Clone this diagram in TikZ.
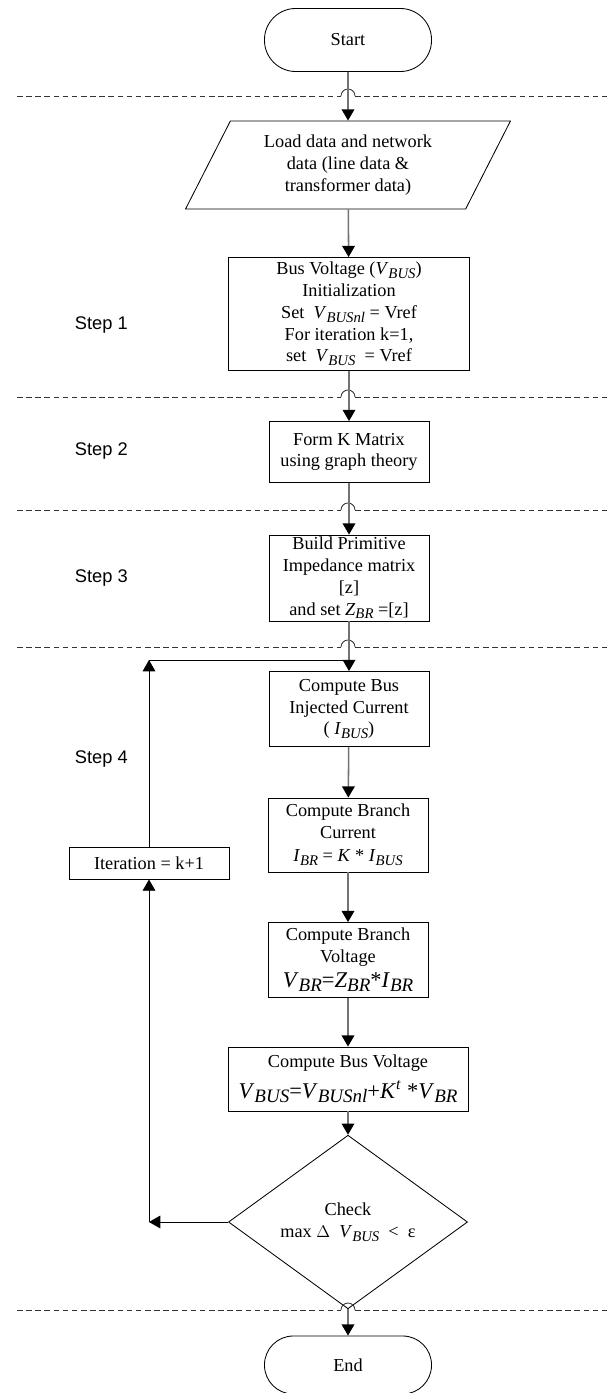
\documentclass[tikz,border=0pt]{standalone}
\usepackage{fontspec}
\setmainfont{Liberation Serif}
\newfontfamily\stepfont{Liberation Sans}
\usetikzlibrary{arrows.meta,shapes.geometric}
\def\vs#1#2{\textit{#1}\raisebox{-0.45ex}{\fontsize{10.5}{12}\selectfont\textit{#2}}}
\def\vsb#1#2{\textit{#1}\raisebox{-0.45ex}{\fontsize{13.5}{15}\selectfont\textit{#2}}}
\def\sepline(#1:#2:#3){\draw[sep] (17,#2) -- ({#1-7},#2); \draw[sep] ({#1+7},#2) -- (#3,#2); \draw[line width=0.6pt, black!80] ({#1-7},#2) arc (180:360:7);}
\tikzset{
  box/.style={draw, line width=0.6pt, align=center, inner sep=0pt, font=\fontsize{13}{15.5}\selectfont},
  flow/.style={draw=black!55, line width=1.1pt, -{Triangle[black,width=9pt,length=8pt]}},
  back/.style={draw=black, line width=0.6pt, -{Triangle[black,width=9pt,length=8pt]}},
  sep/.style={black!80, line width=0.6pt, dash pattern=on 4pt off 2.5pt},
  steplabel/.style={anchor=west, font=\stepfont\fontsize{13}{15}\selectfont}
}

\begin{document}
\begin{tikzpicture}[x=0.025cm, y=-0.025cm]
		%%%%% START %%%%%
		\useasboundingbox (0,0) rectangle (611,1393);
		
		\node[box, minimum width=4.175cm, minimum height=1.575cm, rounded corners=0.78cm] (start) at (348,40) {Start};
		\node[box, trapezium, trapezium left angle=62, trapezium right angle=118, trapezium stretches=true, minimum width=8.125cm, minimum height=2.2cm] (load) at (348,165) {Load data and network\\data (line data \&\\transformer data)};
		\node[box, minimum width=6.025cm, minimum height=2.825cm] (init) at (349,314) {Bus Voltage (\vs{V}{BUS})\\Initialization\\Set \ \vs{V}{BUSnl} = Vref\\For iteration k=1,\\set \ \vs{V}{BUS} \ = Vref};
		\node[box, minimum width=4cm, minimum height=1.525cm] (kmat) at (349,452) {Form K Matrix\\using graph theory};
		\node[box, minimum width=4cm, minimum height=2.15cm] (zprim) at (349,578) {Build Primitive\\Impedance matrix\\{}[z]\\and set \vs{Z}{BR} =[z]};
		
		\node[box, minimum width=4cm, minimum height=1.875cm] (ibus) at (349,709) {Compute Bus\\Injected Current\\( \vs{I}{BUS})};
		\node[box, minimum width=4cm, minimum height=1.85cm] (ibr) at (348,835) {Compute Branch\\Current\\[1pt]\vs{I}{BR} = \textit{K} * \vs{I}{BUS}};
		\node[box, minimum width=4cm, minimum height=1.875cm] (vbr) at (348,960) {Compute Branch\\Voltage\\[2pt]{\fontsize{16}{18}\selectfont\vsb{V}{BR}=\vsb{Z}{BR}*\vsb{I}{BR}}};
		\node[box, minimum width=6cm, minimum height=1.6cm] (vbus) at (348,1079) {Compute Bus Voltage\\[6pt]{\fontsize{16}{18}\selectfont\vsb{V}{BUS}=\vsb{V}{BUSnl}+\textit{K}\textsuperscript{\textit{t}} *\vsb{V}{BR}}};
		\node[box, diamond, minimum width=5.975cm, minimum height=3.125cm] (check) at (348,1222) {Check\\max $\Delta$ \ \vs{V}{BUS} \ < \ ε};
		\node[box, minimum width=4.175cm, minimum height=1.45cm, rounded corners=0.72cm] (end) at (348,1365) {End};
		
		\node[box, minimum width=4cm, minimum height=0.8cm] (iter) at (149,863) {Iteration = k+1};
		
		\node[steplabel] (step1) at (70,325) {Step 1};
		\node[steplabel] (step2) at (70,451) {Step 2};
		\node[steplabel] (step3) at (70,578) {Step 3};
		\node[steplabel] (step4) at (70,759) {Step 4};
		
		\sepline(348:96:611)
		\sepline(348:397:611)
		\sepline(348:510:611)
		\sepline(348:647:611)
		\sepline(348:1310:611)
		
		\draw[flow] (start) -- (load);
		\draw[flow] (load) -- (init);
		\draw[flow] (init) -- (kmat);
		\draw[flow] (kmat) -- (zprim);
		\draw[flow] (zprim) -- (ibus);
		\draw[flow] (ibus) -- (ibr);
		\draw[flow] (ibr) -- (vbr);
		\draw[flow] (vbr) -- (vbus);
		\draw[flow] (vbus) -- (check);
		\draw[flow] (check) -- (end);
		
		\coordinate (loopbot) at (149,1222);
		\coordinate (looptop) at (149,660);
		\coordinate (join) at (348,660);
		\draw[back] (check.west) -- (loopbot);
		\draw[back] (loopbot) -- (iter.south);
		\draw[back] (iter.north) -- (looptop);
		\draw[line width=0.6pt] (looptop) -- (join);
		
		%%%%% END %%%%%
\end{tikzpicture}
\end{document}
